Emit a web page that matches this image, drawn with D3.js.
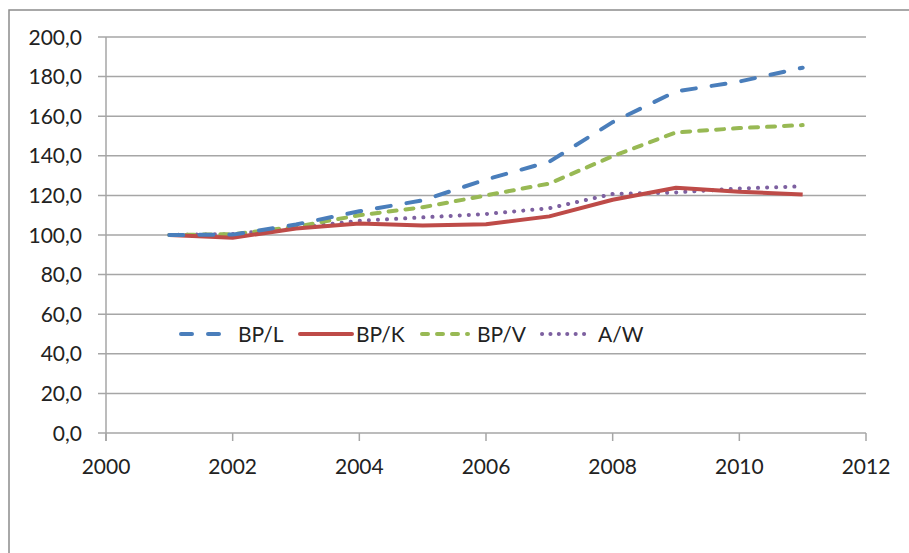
<!DOCTYPE html>
<html>
<head>
    <title>Index</title>
    <script src="https://cdn.jsdelivr.net/npm/d3@7/dist/d3.min.js"></script>
    <style>
        body { margin: 0; background: #fff; }
        text { font-family: Lato, "Open Sans", sans-serif; fill: #222; }
    </style>
</head>
<body>
    <svg width="909" height="553" id="mainsvg"></svg>
    <script>
        // data
        const years = [2001, 2002, 2003, 2004, 2005, 2006, 2007, 2008, 2009, 2010, 2011];
        const bpL = [100, 100.2, 105.3, 112, 117.5, 128, 137, 157, 172.5, 177.5, 184.5];
        const bpK = [100, 98.6, 103.3, 105.8, 104.8, 105.4, 109.4, 117.8, 123.9, 121.8, 120.5];
        const bpV = [100, 100.4, 104.2, 110, 114, 120, 126, 139.8, 151.8, 154, 155.5];
        const aW = [100, 100.5, 103.5, 107.2, 108.9, 110.6, 113.5, 120.7, 121.5, 123.5, 124.6];
        const seriesNames = ['BP/L', 'BP/K', 'BP/V', 'A/W'];
        const xTicks = [2000, 2002, 2004, 2006, 2008, 2010, 2012];
        const yTicks = [0, 20, 40, 60, 80, 100, 120, 140, 160, 180, 200];

        const svg = d3.select('svg');
        const styles = [
            { color: '#4a7ebb', dash: '14,16' },
            { color: '#be4b48', dash: null },
            { color: '#98b954', dash: '8,9' },
            { color: '#7d60a0', dash: '0.1,9' }
        ];
        const series = [bpL, bpK, bpV, aW].map((vals, i) => ({
            name: seriesNames[i], style: styles[i],
            points: vals.map((v, j) => ({ year: years[j], value: v }))
        }));

        const x = d3.scaleLinear().domain([2000, 2012]).range([106, 866]);
        const y = d3.scaleLinear().domain([0, 200]).range([433, 37]);
        const loc = d3.formatLocale({ decimal: ',', thousands: '.', grouping: [3], currency: ['', ''] });
        const fmt = loc.format('.1f');

        // outer frame
        svg.append('rect').attr('x', 9).attr('y', 10).attr('width', 920).attr('height', 560)
            .attr('fill', 'none').attr('stroke', '#8c8c8c').attr('stroke-width', 1.5);

        // gridlines
        svg.selectAll('.grid').data(yTicks).join('line').attr('class', 'grid')
            .attr('x1', 98).attr('x2', 866).attr('y1', d => y(d)).attr('y2', d => y(d))
            .attr('stroke', '#a6a6a6').attr('stroke-width', 1.5);

        // y axis line
        svg.append('line').attr('x1', 106).attr('x2', 106).attr('y1', y(200)).attr('y2', 441)
            .attr('stroke', '#a6a6a6').attr('stroke-width', 1.5);

        // x ticks
        svg.selectAll('.xtick').data(xTicks).join('line').attr('class', 'xtick')
            .attr('x1', d => x(d)).attr('x2', d => x(d)).attr('y1', y(0)).attr('y2', 441)
            .attr('stroke', '#a6a6a6').attr('stroke-width', 1.5);

        svg.selectAll('.ylab').data(yTicks).join('text').attr('class', 'ylab')
            .attr('x', 82).attr('y', d => y(d)).attr('dy', '0.36em')
            .attr('text-anchor', 'end').attr('font-size', 21).text(d => fmt(d));

        svg.selectAll('.xlab').data(xTicks).join('text').attr('class', 'xlab')
            .attr('x', d => x(d)).attr('y', 474)
            .attr('text-anchor', 'middle').attr('font-size', 21).text(d => d);

        const line = d3.line().x(d => x(d.year)).y(d => y(d.value));

        // draw order: purple, green, red, blue on top
        const order = [3, 2, 1, 0];
        svg.selectAll('.series').data(order.map(i => series[i])).join('path').attr('class', 'series')
            .attr('d', d => line(d.points)).attr('fill', 'none')
            .attr('stroke', d => d.style.color).attr('stroke-width', 4)
            .attr('stroke-linecap', d => d.style.dash ? 'round' : 'butt')
            .attr('stroke-linejoin', 'round')
            .attr('stroke-dasharray', d => d.style.dash);

        // legend
        const legX = [179, 298, 420, 540];
        const legY = 334;
        const leg = svg.selectAll('.leg').data(series).join('g').attr('class', 'leg')
            .attr('transform', (d, i) => `translate(${legX[i]},${legY})`);
        leg.append('line').attr('x1', 2).attr('x2', d => d.name === 'BP/K' ? 54 : 48)
            .attr('y1', 0).attr('y2', 0)
            .attr('stroke', d => d.style.color).attr('stroke-width', 4)
            .attr('stroke-linecap', 'round')
            .attr('stroke-dasharray', d => d.name === 'BP/L' ? '11,16' : d.name === 'BP/V' ? '6,9' : d.name === 'A/W' ? '0.1,8.3' : null);
        leg.append('text').attr('x', (d, i) => [59, 58, 57, 58][i]).attr('y', 0).attr('dy', '0.36em')
            .attr('font-size', 21).text(d => d.name);
    </script>
</body>
</html>
